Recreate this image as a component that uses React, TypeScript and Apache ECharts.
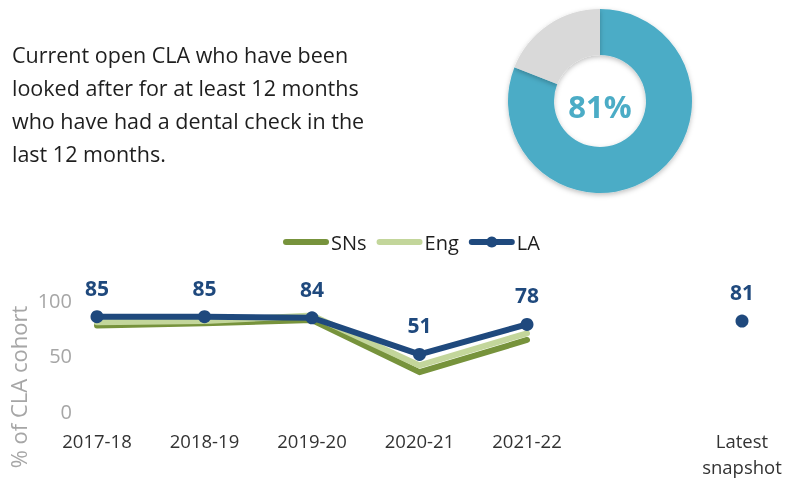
import React, { useEffect, useRef } from "react";
import * as echarts from "echarts";

const categories = ["2017-18", "2018-19", "2019-20", "2020-21", "2021-22", "", "Latest\nsnapshot"];
const snsValues = [77, 79, 82, 35, 64, null, null];
const engValues = [80, 81, 86, 41, 70, null, null];
const laValues = [85, 85, 84, 51, 78, null, 81];
const donutValue = 81;
const yTicks = [0, 50, 100];
const headline = "Current open CLA who have been\nlooked after for at least 12 months\nwho have had a dental check in the\nlast 12 months.";

const FONT = "'Open Sans', 'Noto Sans', sans-serif";
const C_SNS = "#77933c";
const C_ENG = "#c3d69b";
const C_LA = "#1f497d";
const C_DONUT = "#4bacc6";

export default function App() {
  const ref = useRef<HTMLDivElement>(null);
  useEffect(() => {
    if (!ref.current) return;
    const chart = echarts.init(ref.current, undefined, { renderer: "svg" });
    chart.setOption({
      animation: false,
      textStyle: { fontFamily: FONT },
      graphic: [
        {
          type: "text",
          left: 12,
          top: 38,
          style: {
            text: headline,
            fontFamily: FONT,
            fontSize: 21.5,
            lineHeight: 33,
            fill: "#1e1e1e",
          },
        },
        {
          type: "text",
          x: 600,
          y: 106,
          style: {
            text: donutValue + "%",
            fontFamily: FONT,
            fontSize: 31,
            fontWeight: "bold",
            fill: C_DONUT,
            align: "center",
            verticalAlign: "middle",
          },
          z: 10,
        },
        {
          type: "text",
          x: 18,
          y: 387,
          rotation: Math.PI / 2,
          style: {
            text: "% of CLA cohort",
            fontFamily: FONT,
            fontSize: 22,
            fill: "#a6a6a6",
            align: "center",
            verticalAlign: "middle",
          },
        },
      ],
      legend: {
        top: 227,
        left: 278,
        itemWidth: 40,
        itemHeight: 14,
        itemGap: 10,
        lineStyle: { width: 6, cap: "round" },
        textStyle: { fontFamily: FONT, fontSize: 20, color: "#1e1e1e" },
        data: [
          { name: "SNs", itemStyle: { opacity: 0 } },
          { name: "Eng", itemStyle: { opacity: 0 } },
          { name: "LA" },
        ],
      },
      grid: { left: 97, right: 44, top: 300, bottom: 70, containLabel: false },
      xAxis: {
        type: "category",
        data: categories,
        boundaryGap: false,
        axisLine: { show: false },
        axisTick: { show: false },
        axisLabel: {
          interval: 0,
          margin: 16,
          fontFamily: FONT,
          fontSize: 18.5,
          lineHeight: 26,
          color: "#333333",
          verticalAlign: "top",
        },
      },
      yAxis: {
        type: "value",
        min: yTicks[0],
        max: yTicks[yTicks.length - 1],
        interval: 50,
        splitLine: { show: false },
        axisLine: { show: false },
        axisTick: { show: false },
        axisLabel: { fontFamily: FONT, fontSize: 20, color: "#a6a6a6", margin: 25 },
      },
      series: [
        {
          type: "pie",
          center: [600, 101],
          radius: [46, 92],
          startAngle: 90,
          label: { show: false },
          labelLine: { show: false },
          silent: true,
          itemStyle: { shadowBlur: 5, shadowColor: "rgba(0,0,0,0.25)", shadowOffsetY: 2 },
          data: [
            { value: donutValue, itemStyle: { color: C_DONUT } },
            { value: 100 - donutValue, itemStyle: { color: "#d9d9d9" } },
          ],
        },
        {
          name: "SNs",
          type: "line",
          data: snsValues,
          symbol: "none",
          lineStyle: { color: C_SNS, width: 6, cap: "round", join: "round" },
          itemStyle: { color: C_SNS },
        },
        {
          name: "Eng",
          type: "line",
          data: engValues,
          symbol: "none",
          lineStyle: { color: C_ENG, width: 6, cap: "round", join: "round" },
          itemStyle: { color: C_ENG },
        },
        {
          name: "LA",
          type: "line",
          data: laValues,
          symbol: "circle",
          symbolSize: 13,
          showAllSymbol: true,
          lineStyle: { color: C_LA, width: 6, cap: "round", join: "round" },
          itemStyle: { color: C_LA },
          label: {
            show: true,
            position: "top",
            distance: 12,
            fontFamily: FONT,
            fontSize: 21,
            fontWeight: "bold",
            color: C_LA,
          },
        },
      ],
    });
    return () => chart.dispose();
  }, []);
  return (
    <div
      ref={ref}
      style={{ position: "fixed", left: 0, top: 0, width: 786, height: 481 }}
    />
  );
}
